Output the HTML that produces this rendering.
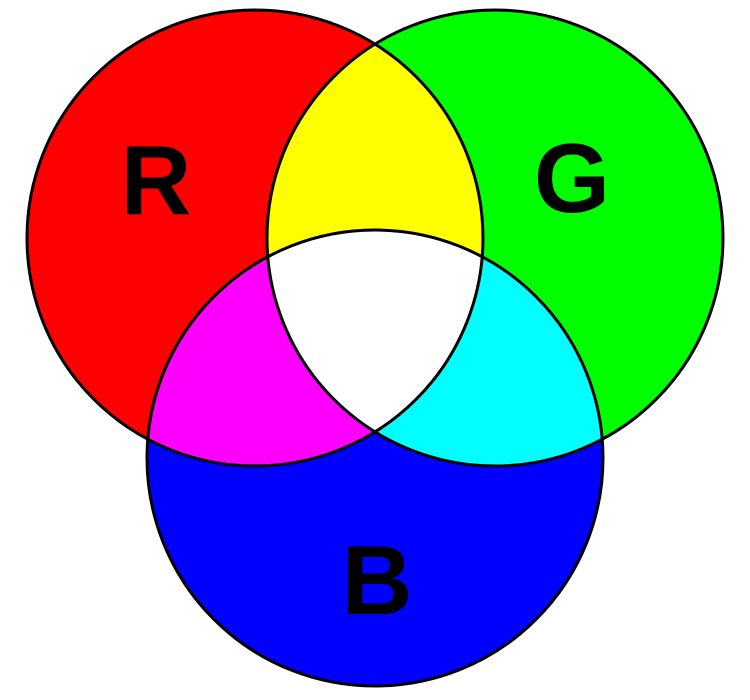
<!DOCTYPE html>
<html><head><style>html,body{margin:0;padding:0;background:#fff;width:750px;height:700px;overflow:hidden}</style></head>
<body>
<svg width="750" height="700" viewBox="0 0 750 700" xmlns="http://www.w3.org/2000/svg">
<defs>
<clipPath id="cr"><circle cx="255" cy="238" r="228"/></clipPath>
<clipPath id="cg"><circle cx="495" cy="238" r="228"/></clipPath>
</defs>
<circle cx="255" cy="238" r="228" fill="#ff0000"/>
<circle cx="495" cy="238" r="228" fill="#00ff00"/>
<circle cx="375" cy="458" r="228" fill="#0000ff"/>
<circle cx="495" cy="238" r="228" fill="#ffff00" clip-path="url(#cr)"/>
<circle cx="375" cy="458" r="228" fill="#ff00ff" clip-path="url(#cr)"/>
<circle cx="375" cy="458" r="228" fill="#00ffff" clip-path="url(#cg)"/>
<g clip-path="url(#cr)"><circle cx="375" cy="458" r="228" fill="#ffffff" clip-path="url(#cg)"/></g>
<g fill="none" stroke="#000" stroke-width="3">
<circle cx="255" cy="238" r="228"/>
<circle cx="495" cy="238" r="228"/>
<circle cx="375" cy="458" r="228"/>
</g>
<g font-family="Liberation Sans, sans-serif" font-weight="bold" font-size="98" text-anchor="middle" fill="#000">
<text x="156" y="214">R</text>
<text x="572" y="212">G</text>
<text x="377" y="614">B</text>
</g>
</svg>
</body></html>
